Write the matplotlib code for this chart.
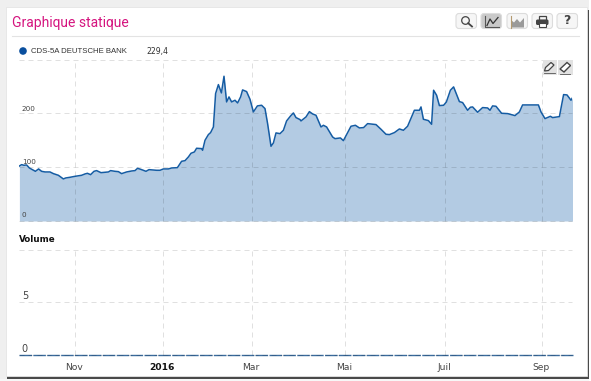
import matplotlib
matplotlib.use("Agg")
import matplotlib.pyplot as plt
from matplotlib.patches import Rectangle, FancyBboxPatch, Circle, Polygon

# sessions on the x axis, CDS level on the y axis
sessions = [0.2, 1.3, 2.5, 3.8, 5.2, 6.7, 8.2, 9.8, 11.3, 13, 15.5, 17.2, 19.7, 22.2, 23.3, 25.5, 28, 31.3, 33, 34.2,
            35.8, 37.5, 38.8, 41, 43, 44.7, 45.8, 48, 49.7, 51.3, 53.8, 56.3, 58, 59.3, 61.3, 63.5, 65, 67.2, 68.8, 70.5,
            72.2, 74.7, 76.3, 79.2, 81.3, 83, 84.7, 86, 87.7, 88.8, 91.3, 91.8, 93, 94.7, 95.8, 97.2, 98.3, 99.7, 101.2, 102.5,
            103.8, 105, 106.3, 108, 109.3, 110.8, 111.8, 113.8, 115.5, 117.2, 119.2, 121.3, 123, 124.3, 126, 127.2, 128.5, 130.5, 132.2, 133.8,
            135.8, 137.2, 138.5, 140.5, 141, 143.5, 145.2, 146.8, 148.5, 151, 152.2, 153.8, 156.8, 158, 160.7, 162.2, 166, 168.2, 170.2, 172.3,
            174.3, 178.5, 181, 183.5, 185.2, 187.7, 190.2, 192.2, 194.3, 197.7, 200.2, 201, 202.2, 204.7, 206.3, 207.3, 208.8, 210.2, 212.3, 213.7,
            215.7, 217.3, 220.2, 221.8, 224.3, 225.7, 226.8, 229.3, 231.8, 234.3, 235.5, 236.8, 238.5, 241.3, 244.3, 248, 250.2, 251.8, 259.7, 261,
            263, 265.7, 266.8, 270.2, 272.3, 274, 276, 276.8]
cds = [102.2, 104.7, 103.5, 104.1, 98.5, 95.4, 92.3, 96.7, 92.3, 91.1, 91.1, 88.0, 84.9, 78.1, 79.9, 81.2, 83.0, 84.9, 87.4, 88.6,
       86.1, 92.3, 93.6, 89.8, 90.5, 91.1, 93.6, 92.3, 91.7, 88.0, 91.1, 92.9, 93.6, 97.9, 95.4, 92.3, 95.4, 94.8, 94.2, 94.2,
       96.7, 96.7, 98.5, 99.1, 110.9, 112.1, 119, 125.8, 128.3, 135.1, 134.5, 131.4, 149.9, 160.5, 164.2, 174.7, 236.7, 253.4, 237.9, 268.9,
       221.2, 230.5, 221.2, 224.3, 219.3, 230.5, 243.5, 240.4, 226.1, 202.6, 213.8, 215, 208.8, 180.9, 138.8, 145, 163.6, 162.3, 168.5, 185.9,
       195.2, 200.7, 192.1, 188.4, 185.9, 193.3, 203.2, 198.9, 196.4, 174.7, 177.8, 174.7, 156.1, 153, 154.3, 149.3, 176, 177.8, 172.9, 173.5,
       180.9, 179.1, 170.4, 161.1, 160.5, 164.2, 171, 168.5, 176, 205.7, 205.7, 211.9, 189, 186.5, 179.7, 242.9, 233.6, 214.4, 215, 221.2,
       242.9, 249.1, 221.8, 220, 205.7, 211.3, 211.9, 202, 210.7, 210, 205.7, 213.8, 213.1, 200.1, 199.5, 195.8, 202.6, 215.6, 215.6, 202.6,
       190.2, 194.5, 192.1, 193.9, 234.8, 234.2, 224.3, 229.4]
volume = [0] * len(sessions)

month_ticks = [27.75, 71.85, 116.25, 163.15, 213.15, 261.5]
month_labels = ["Nov", "2016", "Mar", "Mai", "Juil", "Sep"]
cds_ticks = [0, 100, 200, 300]
vol_ticks = [0, 5, 10]

W, H = 591, 381
BLUE = "#155ca3"
FILL = "#b3cbe3"
TXT = "#444444"

fig = plt.figure(figsize=(W / 100, H / 100), dpi=100, facecolor="#efefef")


def axes_px(x0, y0, x1, y1):
    return fig.add_axes([x0 / W, 1 - y1 / H, (x1 - x0) / W, (y1 - y0) / H])


# page frame and buttons, in pixels
bg = fig.add_axes([0, 0, 1, 1], zorder=0)
bg.set_xlim(0, W)
bg.set_ylim(H, 0)
bg.axis("off")
bg.add_patch(Rectangle((7, 10), 582, 368.5, fc="#4a4a4a", ec="none"))
bg.add_patch(Rectangle((0, 378.5), 591, 3, fc="#f7f7f7", ec="none", zorder=0.5))
bg.add_patch(Rectangle((589, 0), 3, 381, fc="#ffffff", ec="none", zorder=0.5))
bg.add_patch(Rectangle((6, 7), 581, 369, fc="white", ec="#e4e4e4", lw=0.6, zorder=1))
bg.plot([12, 579], [35.5, 35.5], color="#e3e3e3", lw=0.8, zorder=2)
bg.text(12, 23.5, "Graphique statique", family="Roboto", fontsize=10, color="#d5147f", va="center", zorder=3)

for i, bx in enumerate([456, 481, 507, 532, 557]):
    bg.add_patch(FancyBboxPatch((bx, 13.5), 20.5, 15, boxstyle="round,pad=0,rounding_size=3",
                                fc="#c9c9c9" if i == 1 else "#f6f6f6", ec="#dcdcdc", lw=0.8, zorder=3))
# loupe
bg.add_patch(Circle((465.5, 20.5), 3.8, fc="none", ec="#444444", lw=0.9, zorder=4))
bg.plot([468.2, 472], [23.2, 26.5], color="#444444", lw=1.3, zorder=4)
# line button
bg.plot([485, 485, 498.5], [15.5, 27, 27], color="#555555", lw=0.8, zorder=4)
bg.plot([487, 490, 493, 498], [25.5, 19, 23.5, 17.5], color="#333333", lw=0.9, zorder=4)
# area button
bg.add_patch(Polygon([(511, 27.5), (511, 20), (514, 22.5), (517, 19), (520, 22.5), (524, 18), (524, 27.5)],
                     fc="#9a9a9a", ec="none", zorder=4))
bg.plot([510.5, 510.5], [15.5, 27.5], color="#b39a70", lw=0.8, zorder=4)
# printer
bg.add_patch(Rectangle((538.5, 15.5), 7, 4.5, fc="none", ec="#444444", lw=0.9, zorder=4))
bg.add_patch(FancyBboxPatch((536, 19.5), 12.5, 5.5, boxstyle="round,pad=0,rounding_size=1.5", fc="#444444", ec="none", zorder=4))
bg.add_patch(Rectangle((538.5, 22.5), 7.5, 4, fc="white", ec="#444444", lw=0.8, zorder=5))
bg.text(566.5, 21, "?", fontsize=9, fontweight="bold", color="#444444", ha="center", va="center", zorder=4)

bg.add_patch(Circle((23, 51), 3.8, fc="#0a4f9e", ec="none", zorder=3))
bg.text(31, 51.5, "CDS-5A DEUTSCHE BANK", family="Liberation Sans", fontsize=5.6, color="#333333", va="center", zorder=3)
bg.text(146, 51.5, "229,4", family="DejaVu Sans", fontsize=5.6, color="#333333", va="center", zorder=3)

# top panel
ax = axes_px(19, 59.5, 572, 221)
ax.set_zorder(2)
ax.patch.set_alpha(0)
ax.fill_between(sessions, 0, cds, color=FILL, lw=0, zorder=1)
ax.plot(sessions, cds, color=BLUE, lw=1.1, zorder=3)
ax.set_ylim(0, 300)

# bottom panel
ax2 = axes_px(19, 249.5, 572, 354.7)
ax2.set_zorder(2)
ax2.patch.set_alpha(0)
ax2.plot(sessions, volume, color="#3b6c9e", lw=1, ls=(0, (9, 1)), clip_on=False, zorder=1)
ax2.set_ylim(0, 10)

for a, yt in ((ax, cds_ticks), (ax2, vol_ticks)):
    a.set_xlim(0, 276.5)
    a.set_xticks(month_ticks)
    a.set_yticks(yt)
    a.grid(True, color="#000000", alpha=0.12, lw=0.72, ls=(0, (5, 4)), zorder=2)
    a.set_axisbelow(False)
    a.tick_params(length=0, labelleft=False, labelbottom=False)
    for s in a.spines.values():
        s.set_visible(False)
    for gl in a.get_xgridlines() + a.get_ygridlines():
        gl.set_clip_on(False)
        gl.set_zorder(2)

# tick labels sit inside the plot
for v, t, dy in zip([0, 100, 200], ["0", "100", "200"], [2.5, 1.3, 1.3]):
    ax.annotate(t, (0, v), xytext=(2, dy), textcoords="offset points", family="DejaVu Sans",
                fontsize=5.2, color=TXT, va="bottom", zorder=5)
for v, t, dy in zip([0, 5], ["0", "5"], [0.2, 0.8]):
    ax2.annotate(t, (0, v), xytext=(2, dy), textcoords="offset points", family="DejaVu Sans",
                 fontsize=7, color=TXT, va="bottom", zorder=5)
ax2.text(0, 1.095, "Volume", transform=ax2.transAxes, family="DejaVu Sans", fontsize=6.3, fontweight="bold",
         color="#111111", va="center")

for x, t in zip(month_ticks, month_labels):
    bold = t == "2016"
    ha_x = x - 0.5 if t != "Sep" else x - 0.7
    ax2.annotate(t, (ha_x, 0), xytext=(0, -12.5 / 1.39), textcoords="offset points", family="DejaVu Sans",
                 fontsize=6.6, fontweight="bold" if bold else "normal", color="#111111" if bold else TXT,
                 ha="center", va="center", annotation_clip=False)

# pencil and eraser buttons
top = fig.add_axes([0, 0, 1, 1], zorder=5)
top.set_xlim(0, W)
top.set_ylim(H, 0)
top.axis("off")
top.add_patch(Rectangle((542.5, 60), 14.5, 15, fc="#e2e2e2", ec="none"))
top.add_patch(Rectangle((558, 60), 14.5, 15, fc="#e2e2e2", ec="none"))
top.add_patch(Polygon([(544.5, 71), (545.5, 67.5), (551, 62.5), (554, 65), (548.5, 70.5)], fc="#f2f2f2", ec="#444444", lw=0.9))
top.plot([544, 555], [73, 73], color="#555555", lw=0.6)
top.add_patch(Polygon([(560, 69), (567, 62.5), (570.5, 65.5), (564, 72)], fc="white", ec="#444444", lw=1))
top.plot([560, 570], [73.5, 73.5], color="#555555", lw=0.6)

fig.savefig("out.png", dpi=100, facecolor=fig.get_facecolor())
